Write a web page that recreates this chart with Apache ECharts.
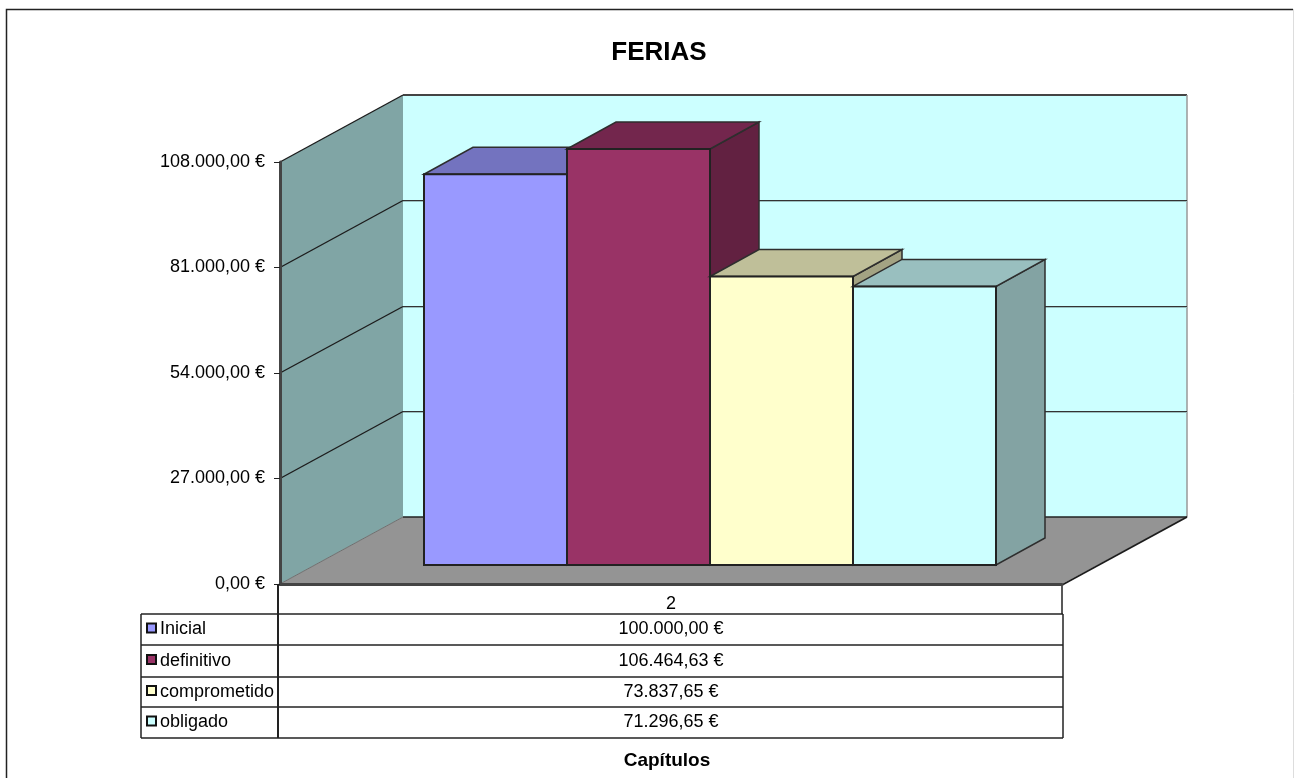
<!DOCTYPE html>
<html><head><meta charset="utf-8">
<style>html,body{margin:0;padding:0;background:#fff}#c{width:1294px;height:778px}</style>
<script src="https://cdn.jsdelivr.net/npm/echarts@6/dist/echarts.min.js"></script>
</head><body><div id="c"></div>
<script>
const titleText = 'FERIAS';
const categories = ['2'];
const axisName = 'Capítulos';
const seriesNames = ['Inicial', 'definitivo', 'comprometido', 'obligado'];
const seriesValues = [100000, 106464.63, 73837.65, 71296.65];
const seriesColors = ['#9999FF', '#993366', '#FFFFCC', '#CCFFFF'];
const yTicks = [0, 27000, 54000, 81000, 108000];

const FONT = '"Liberation Sans", Arial, sans-serif';
const fmt = v => {
  const [a, b] = v.toFixed(2).split('.');
  return a.replace(/\B(?=(\d{3})+$)/g, '.') + ',' + b + ' €';
};
const shade = (hex, k) => {
  const n = parseInt(hex.slice(1), 16);
  return 'rgb(' + [n >> 16 & 255, n >> 8 & 255, n & 255].map(c => Math.round(c * k)).join(',') + ')';
};
// projection layout (pixels)
const WALL_DX = 123, WALL_DY = -67;
const BAR_DX = 49, BAR_DY = -27;
const BAR_SHIFT_X = 39, BAR_SHIFT_Y = -19;
const BAR_WIDTH = 143;
const EDGE = '#1c1c1c';

function poly(points, fill, stroke, lw) {
  return {type: 'polygon', shape: {points}, style: {fill, stroke: stroke || null, lineWidth: lw || 0}};
}
function seg(x1, y1, x2, y2, stroke, lw) {
  return {type: 'line', shape: {x1, y1, x2, y2}, style: {stroke, lineWidth: lw || 1, fill: null}};
}

function renderBackground(params, api) {
  const size = api.size([1, 0])[0];
  const cx = api.coord([0, 0])[0];
  const xL = cx - size / 2, xR = cx + size / 2;
  const y0 = api.coord([0, yTicks[0]])[1];
  const yT = api.coord([0, yTicks[yTicks.length - 1]])[1];
  const bx = WALL_DX, by = WALL_DY;
  const children = [
    poly([[xL + bx, yT + by], [xR + bx + 2, yT + by], [xR + bx + 2, y0 + by], [xL + bx, y0 + by]], '#CCFFFF'),
    poly([[xL, yT], [xL + bx, yT + by], [xL + bx, y0 + by], [xL, y0]], '#80A5A5'),
    poly([[xL, y0], [xL + bx, y0 + by], [xR + bx + 2, y0 + by], [xR, y0]], '#949494'),
    seg(xL, yT, xL + bx, yT + by, EDGE, 1.4),
    seg(xL + bx, yT + by, xR + bx + 2, yT + by, '#444', 2),
    seg(xR + bx + 2, yT + by, xR + bx + 2, y0 + by, '#999', 1.5),
    seg(xL + bx, y0 + by, xR + bx + 2, y0 + by, '#222', 1.5),
    seg(xR, y0 + 1, xR + bx + 2, y0 + by, EDGE, 1.8),
    seg(xL, y0, xL + bx, y0 + by, '#6f6f6f', 1)
  ];
  yTicks.slice(1, -1).forEach(t => {
    const y = api.coord([0, t])[1];
    const yb = Math.floor(y + by) + 0.5;
    children.push(seg(xL + bx, yb + 1, xR + bx + 2, yb + 1, '#99BFBF', 1));
    children.push(seg(xL + bx, yb, xR + bx + 2, yb, '#333', 1));
    children.push(seg(xL, y, xL + bx, yb, EDGE, 1.4));
  });
  return {type: 'group', children};
}

function renderBar(i) {
  return function (params, api) {
    const c0 = api.coord([api.value(0), 0]);
    const c1 = api.coord([api.value(0), api.value(1)]);
    const x0 = c0[0] + BAR_SHIFT_X + (i - 2) * BAR_WIDTH, x1 = x0 + BAR_WIDTH;
    const yB = c0[1] + BAR_SHIFT_Y, yT = c1[1] + BAR_SHIFT_Y;
    const col = seriesColors[i];
    const dx = BAR_DX, dy = BAR_DY;
    return {type: 'group', children: [
      poly([[x1, yT], [x1 + dx, yT + dy], [x1 + dx, yB + dy], [x1, yB]], shade(col, 0.64), '#2e2e2e', 1.5),
      poly([[x0, yT], [x0 + dx, yT + dy], [x1 + dx, yT + dy], [x1, yT]], shade(col, 0.75), '#2e2e2e', 1.5),
      poly([[x0, yT], [x1, yT], [x1, yB], [x0, yB]], col, '#222', 2)
    ]};
  };
}

const tableLeft = 141, tableSplit = 278, tableRight = 1063, tableTop = 614;
const rowEdges = [614, 645, 677, 707, 738];
const tableGraphics = [];
const gLine = (x1, y1, x2, y2, lw) => tableGraphics.push({
  type: 'line', shape: {x1, y1, x2, y2}, style: {stroke: '#222', lineWidth: lw || 1.5}, z: 20});
rowEdges.forEach(y => gLine(tableLeft, y, tableRight, y));
gLine(tableLeft, tableTop, tableLeft, rowEdges[4]);
gLine(tableSplit, 584, tableSplit, rowEdges[4], 2);
gLine(tableRight, tableTop, tableRight, rowEdges[4]);
gLine(1062, 586, 1062, tableTop);
seriesNames.forEach((n, i) => {
  const cy = (rowEdges[i] + rowEdges[i + 1]) / 2;
  tableGraphics.push({type: 'rect', shape: {x: 147, y: cy - 6, width: 9, height: 9},
    style: {fill: seriesColors[i], stroke: '#111', lineWidth: 2}, z: 20});
  tableGraphics.push({type: 'text', x: 160, y: cy, z: 20, style: {text: n, fill: '#000',
    font: '18px ' + FONT, textVerticalAlign: 'middle', textAlign: 'left'}});
  tableGraphics.push({type: 'text', x: 671, y: cy, z: 20, style: {text: fmt(seriesValues[i]), fill: '#000',
    font: '18px ' + FONT, textVerticalAlign: 'middle', textAlign: 'center'}});
});
// chart frame
tableGraphics.push({type: 'polyline', shape: {points: [[6.5, 778], [6.5, 9.5], [1293, 9.5]]},
  style: {stroke: '#222', lineWidth: 1.5, fill: null}, z: 20});
tableGraphics.push({type: 'line', shape: {x1: 1293.5, y1: 9, x2: 1293.5, y2: 778}, style: {stroke: '#ddd', lineWidth: 1}, z: 20});

const chart = echarts.init(document.getElementById('c'), null, {renderer: 'canvas'});
chart.setOption({
  animation: false,
  backgroundColor: '#fff',
  title: {text: titleText, left: 654, top: 35, textAlign: 'center',
    textStyle: {fontFamily: FONT, fontWeight: 'bold', fontSize: 26, color: '#000'}},
  grid: {left: 280, right: 232, top: 162, bottom: 194, outerBoundsMode: 'none'},
  xAxis: {type: 'category', data: categories, z: 10,
    axisLine: {lineStyle: {color: '#444', width: 3}}, axisTick: {show: false},
    axisLabel: {color: '#000', fontFamily: FONT, fontSize: 18, margin: 11},
    name: axisName, nameLocation: 'middle', nameGap: 167,
    nameTextStyle: {fontFamily: FONT, fontWeight: 'bold', fontSize: 19, color: '#000', padding: [0, 8, 0, 0]}},
  yAxis: {type: 'value', min: yTicks[0], max: yTicks[yTicks.length - 1], interval: yTicks[1], z: 10,
    splitLine: {show: false},
    axisLine: {show: true, lineStyle: {color: '#444', width: 3}},
    axisTick: {show: true, length: 6, lineStyle: {color: '#222', width: 1}},
    axisLabel: {color: '#000', fontFamily: FONT, fontSize: 18, margin: 15, formatter: fmt}},
  series: [
    {type: 'custom', name: 'fondo', z: 1, silent: true, data: [[0, yTicks[yTicks.length - 1]]],
      encode: {x: 0, y: 1}, renderItem: renderBackground}
  ].concat(seriesNames.map((n, i) => ({
    type: 'custom', name: n, z: 2 + i, data: [[0, seriesValues[i]]],
    encode: {x: 0, y: 1}, renderItem: renderBar(i)
  }))),
  graphic: {elements: tableGraphics}
});
</script></body></html>
